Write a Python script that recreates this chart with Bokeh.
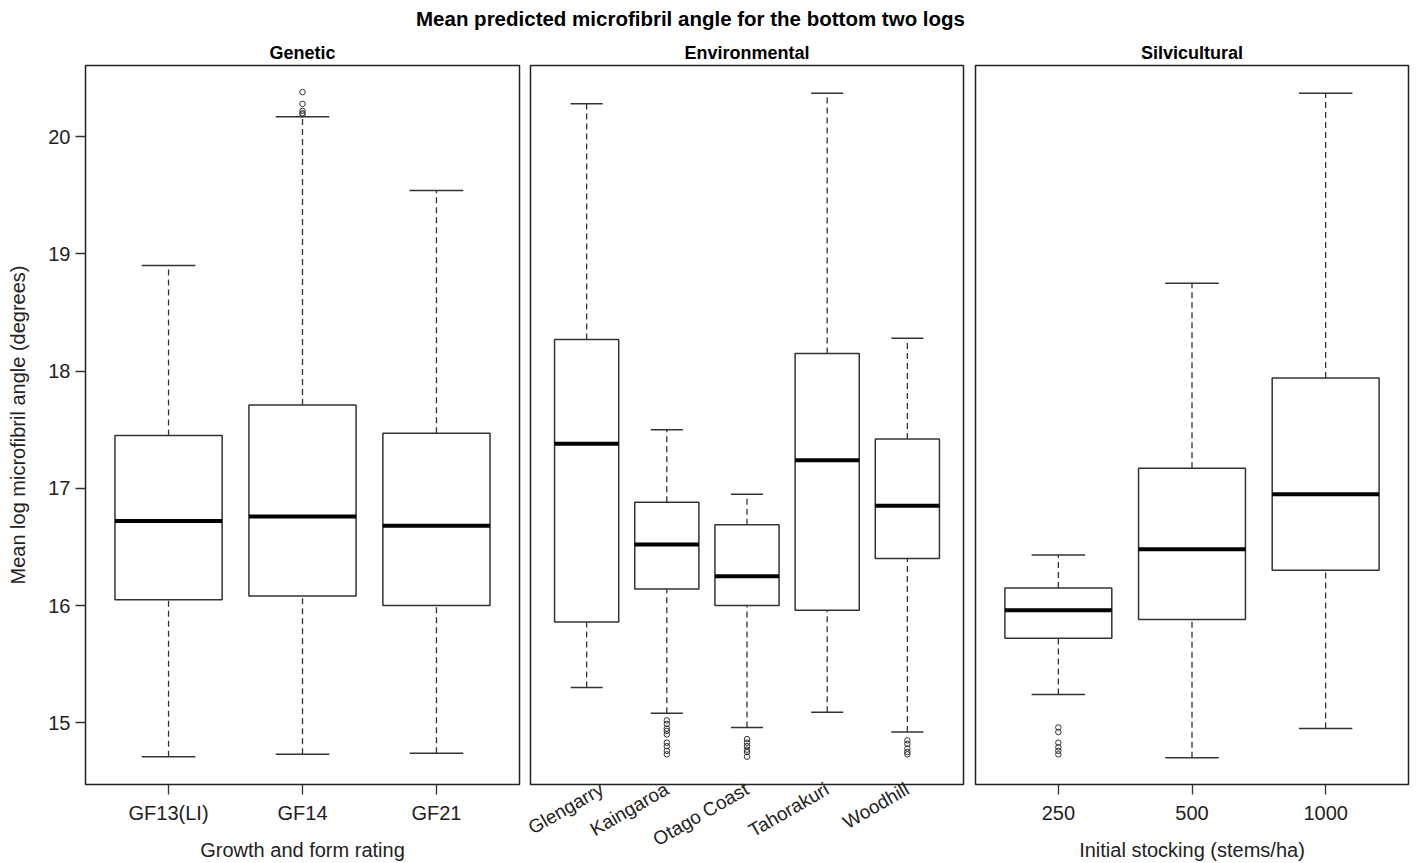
from bokeh.plotting import figure
from bokeh.models import ColumnDataSource, FactorRange, Range1d, FixedTicker, Label
from bokeh.transform import dodge
from bokeh.layouts import column, row
from bokeh.embed import file_html
from bokeh.resources import INLINE
from math import pi

# ---------------- data ----------------
genetic_cats = ["GF13(LI)", "GF14", "GF21"]
genetic_lower = [14.71, 14.73, 14.74]
genetic_q1 = [16.05, 16.08, 16.00]
genetic_median = [16.72, 16.76, 16.68]
genetic_q3 = [17.45, 17.71, 17.47]
genetic_upper = [18.90, 20.17, 19.54]
genetic_out_cat = ["GF14", "GF14", "GF14", "GF14", "GF14"]
genetic_out_val = [20.38, 20.28, 20.22, 20.20, 20.19]

env_cats = ["Glengarry", "Kaingaroa", "Otago Coast", "Tahorakuri", "Woodhill"]
env_lower = [15.30, 15.08, 14.96, 15.09, 14.92]
env_q1 = [15.86, 16.14, 16.00, 15.96, 16.40]
env_median = [17.38, 16.52, 16.25, 17.24, 16.85]
env_q3 = [18.27, 16.88, 16.69, 18.15, 17.42]
env_upper = [20.28, 17.50, 16.95, 20.37, 18.28]
env_out_cat = (["Kaingaroa"] * 9 + ["Otago Coast"] * 6 + ["Woodhill"] * 5)
env_out_val = [15.02, 14.99, 14.95, 14.93, 14.90, 14.83, 14.80, 14.76, 14.73,
               14.86, 14.83, 14.80, 14.77, 14.75, 14.71,
               14.85, 14.82, 14.78, 14.75, 14.73]

silv_cats = ["250", "500", "1000"]
silv_lower = [15.24, 14.70, 14.95]
silv_q1 = [15.72, 15.88, 16.30]
silv_median = [15.96, 16.48, 16.95]
silv_q3 = [16.15, 17.17, 17.94]
silv_upper = [16.43, 18.75, 20.37]
silv_out_cat = ["250"] * 6
silv_out_val = [14.96, 14.92, 14.83, 14.79, 14.76, 14.73]

y_ticks = [15, 16, 17, 18, 19, 20]

main_title = "Mean predicted microfibril angle for the bottom two logs"
y_label = "Mean log microfibril angle (degrees)"

# ---------------- styling ----------------
FONT = "Liberation Sans"
LINE = "#333333"
TITLE_H = 36
H = 863 - TITLE_H
TOP = 29
BOTTOM = 79

all_vals = (genetic_lower + genetic_upper + genetic_out_val + env_lower + env_upper +
            env_out_val + silv_lower + silv_upper + silv_out_val)
lo, hi = min(all_vals), max(all_vals)
pad = 0.04 * (hi - lo)


def panel(title, cats, lower, q1, med, q3, upper, out_cat, out_val,
          width, bl, br, xlabel=None, show_y=False, rotate=False,
          label_standoff=7, title_standoff=12):
    p = figure(width=width, height=H,
               x_range=FactorRange(factors=cats, range_padding=0.08),
               y_range=Range1d(lo - pad, hi + pad),
               toolbar_location=None, output_backend="svg",
               min_border_left=bl, min_border_right=br,
               min_border_top=TOP, min_border_bottom=BOTTOM)
    p.title.text = title
    p.title.align = "center"
    p.title.text_font = FONT
    p.title.text_font_size = "18px"
    p.title.text_font_style = "bold"
    p.title.text_color = "black"
    p.title.standoff = 5
    p.grid.visible = False
    p.outline_line_color = "#222222"
    p.outline_line_width = 1.5
    p.background_fill_color = "white"
    p.border_fill_color = "white"

    src = ColumnDataSource(dict(cat=cats, lower=lower, q1=q1, med=med, q3=q3, upper=upper))
    # whiskers
    p.segment(x0="cat", x1="cat", y0="q3", y1="upper", source=src,
              line_color=LINE, line_width=1.3, line_dash="6 4")
    p.segment(x0="cat", x1="cat", y0="lower", y1="q1", source=src,
              line_color=LINE, line_width=1.3, line_dash="6 4")
    # whisker caps
    p.segment(x0=dodge("cat", -0.2, range=p.x_range), x1=dodge("cat", 0.2, range=p.x_range),
              y0="upper", y1="upper", source=src, line_color=LINE, line_width=1.5)
    p.segment(x0=dodge("cat", -0.2, range=p.x_range), x1=dodge("cat", 0.2, range=p.x_range),
              y0="lower", y1="lower", source=src, line_color=LINE, line_width=1.5)
    # boxes
    p.vbar(x="cat", width=0.8, bottom="q1", top="q3", source=src,
           fill_color="white", line_color=LINE, line_width=1.5)
    # medians
    p.segment(x0=dodge("cat", -0.4, range=p.x_range), x1=dodge("cat", 0.4, range=p.x_range),
              y0="med", y1="med", source=src, line_color="black", line_width=4)
    # outliers
    osrc = ColumnDataSource(dict(cat=out_cat, val=out_val))
    p.scatter(x="cat", y="val", source=osrc, marker="circle", size=5.5,
              fill_color=None, line_color=LINE, line_width=1)

    xa = p.xaxis[0]
    xa.axis_line_color = None
    xa.minor_tick_line_color = None
    xa.major_label_text_font = FONT
    xa.major_label_text_font_size = "20px"
    xa.major_label_text_color = "#222222"
    xa.major_tick_in = 0
    xa.major_tick_out = 10
    xa.major_tick_line_color = LINE
    xa.major_tick_line_width = 1.3
    xa.major_label_standoff = label_standoff
    if rotate:
        xa.major_tick_line_color = None
        xa.major_tick_out = 0
        xa.major_label_orientation = pi / 6
        xa.major_label_text_font_size = "19px"
        xa.major_label_standoff = 3
    if xlabel:
        xa.axis_label = xlabel
        xa.axis_label_text_font = FONT
        xa.axis_label_text_font_size = "20px"
        xa.axis_label_text_font_style = "normal"
        xa.axis_label_text_color = "#222222"
        xa.axis_label_standoff = title_standoff

    ya = p.yaxis[0]
    if show_y:
        ya.ticker = FixedTicker(ticks=y_ticks)
        ya.axis_line_color = None
        ya.minor_tick_line_color = None
        ya.major_tick_in = 0
        ya.major_tick_out = 10
        ya.major_tick_line_color = LINE
        ya.major_tick_line_width = 1.3
        ya.major_label_text_font = FONT
        ya.major_label_text_font_size = "20px"
        ya.major_label_text_color = "#222222"
        ya.major_label_standoff = 5
        ya.axis_label = y_label
        ya.axis_label_text_font = FONT
        ya.axis_label_text_font_size = "20px"
        ya.axis_label_text_font_style = "normal"
        ya.axis_label_text_color = "#222222"
        ya.axis_label_standoff = 16
    else:
        ya.visible = False
    return p


p1 = panel("Genetic", genetic_cats, genetic_lower, genetic_q1, genetic_median,
           genetic_q3, genetic_upper, genetic_out_cat, genetic_out_val,
           width=524, bl=85, br=5, xlabel="Growth and form rating", show_y=True)
p2 = panel("Environmental", env_cats, env_lower, env_q1, env_median,
           env_q3, env_upper, env_out_cat, env_out_val,
           width=445, bl=6, br=6, rotate=True)
p3 = panel("Silvicultural", silv_cats, silv_lower, silv_q1, silv_median,
           silv_q3, silv_upper, silv_out_cat, silv_out_val,
           width=449, bl=6, br=10, xlabel="Initial stocking (stems/ha)",
           label_standoff=11, title_standoff=16)

p0 = figure(width=1418, height=TITLE_H, toolbar_location=None,
            output_backend="svg", min_border=0,
            x_range=Range1d(0, 1418), y_range=Range1d(0, TITLE_H))
p0.axis.visible = False
p0.grid.visible = False
p0.outline_line_color = None
p0.add_layout(Label(x=690, y=TITLE_H / 2, text=main_title, text_align="center",
                    text_baseline="middle", text_font=FONT, text_font_size="20.5px",
                    text_font_style="bold", text_color="black"))

layout = column(p0, row(p1, p2, p3, spacing=0), spacing=0)
open("out.html", "w").write(file_html(layout, INLINE))
